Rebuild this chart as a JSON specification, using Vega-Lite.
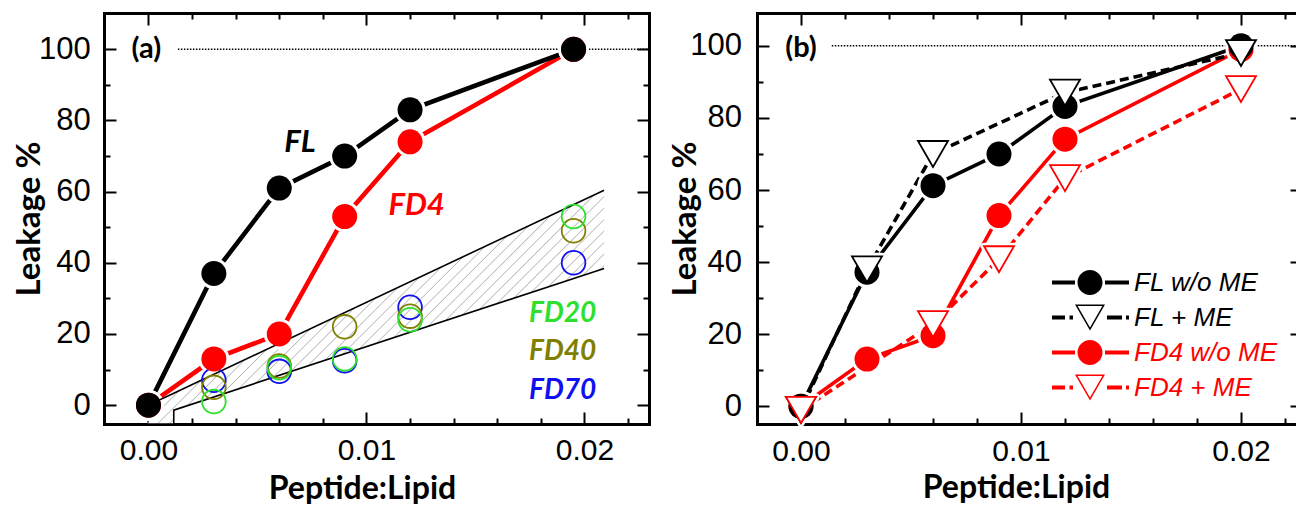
{
  "$schema": "https://vega.github.io/schema/vega-lite/v6.json",
  "padding": {"left": 13, "top": 12, "right": 0, "bottom": 0},
  "autosize": {"type": "pad"},
  "background": "white",
  "config": {
    "view": {"stroke": null},
    "axis": {"grid": false, "domainColor": "#000", "domainWidth": 3, "domainCap": "square", "tickColor": "#000", "tickWidth": 2, "labelFont": "Liberation Sans", "labelFontSize": 31, "labelColor": "#000", "labelFlush": false, "titleFont": "Lato", "titleFontSize": 33, "titleFontWeight": "bold", "titleColor": "#000", "zindex": 1}
  },
  "datasets": {
    "a_main": [
      {"x": 0, "y": 0, "s": "FD4"}, {"x": 0.003, "y": 13, "s": "FD4"}, {"x": 0.006, "y": 20, "s": "FD4"}, {"x": 0.009, "y": 53, "s": "FD4"}, {"x": 0.012, "y": 74, "s": "FD4"}, {"x": 0.0195, "y": 100, "s": "FD4"},
      {"x": 0, "y": 0, "s": "FL"}, {"x": 0.003, "y": 37, "s": "FL"}, {"x": 0.006, "y": 61, "s": "FL"}, {"x": 0.009, "y": 70, "s": "FL"}, {"x": 0.012, "y": 83, "s": "FL"}, {"x": 0.0195, "y": 100, "s": "FL"}
    ],
    "a_open": [
      {"x": 0.003, "y": 7, "s": "FD70"}, {"x": 0.006, "y": 9.5, "s": "FD70"}, {"x": 0.009, "y": 12.5, "s": "FD70"}, {"x": 0.012, "y": 27.5, "s": "FD70"}, {"x": 0.0195, "y": 40, "s": "FD70"},
      {"x": 0.003, "y": 5, "s": "FD40"}, {"x": 0.006, "y": 11, "s": "FD40"}, {"x": 0.009, "y": 22, "s": "FD40"}, {"x": 0.012, "y": 25, "s": "FD40"}, {"x": 0.0195, "y": 49, "s": "FD40"},
      {"x": 0.003, "y": 1, "s": "FD20"}, {"x": 0.006, "y": 10.5, "s": "FD20"}, {"x": 0.009, "y": 13, "s": "FD20"}, {"x": 0.012, "y": 24, "s": "FD20"}, {"x": 0.0195, "y": 53, "s": "FD20"}
    ],
    "a_band": [
      {"x": 0, "hi": 0, "lo": -5.3}, {"x": 0.00116, "hi": 3.34, "lo": -5.3}, {"x": 0.00116, "hi": 3.34, "lo": -1.4}, {"x": 0.0209, "hi": 60.4, "lo": 38.4}
    ],
    "a_dot": [{"x": 0.00135, "y": 100}, {"x": 0.0229, "y": 100}],
    "a_text_big": [
      {"x": 0.00695, "y": 73.6, "t": "FL"}, {"x": 0.0123, "y": 56, "t": "FD4"}
    ],
    "a_text_small": [
      {"x": 0.019, "y": 25.6, "t": "FD20"}, {"x": 0.019, "y": 14.9, "t": "FD40"}, {"x": 0.019, "y": 3.9, "t": "FD70"}
    ],
    "a_tag": [{"x": -0.0001, "y": 100, "t": "(a)"}],
    "b_wo": [
      {"x": 0, "y": 0, "s": "FD4 w/o ME"}, {"x": 0.003, "y": 13.1, "s": "FD4 w/o ME"}, {"x": 0.006, "y": 19.6, "s": "FD4 w/o ME"}, {"x": 0.009, "y": 52.9, "s": "FD4 w/o ME"}, {"x": 0.012, "y": 74.1, "s": "FD4 w/o ME"}, {"x": 0.02, "y": 99, "s": "FD4 w/o ME"},
      {"x": 0, "y": 0, "s": "FL w/o ME"}, {"x": 0.003, "y": 37.2, "s": "FL w/o ME"}, {"x": 0.006, "y": 61.2, "s": "FL w/o ME"}, {"x": 0.009, "y": 70, "s": "FL w/o ME"}, {"x": 0.012, "y": 83.2, "s": "FL w/o ME"}, {"x": 0.02, "y": 100, "s": "FL w/o ME"}
    ],
    "b_me": [
      {"x": 0, "y": -1, "s": "FL + ME"}, {"x": 0.003, "y": 38, "s": "FL + ME"}, {"x": 0.006, "y": 70, "s": "FL + ME"}, {"x": 0.012, "y": 87, "s": "FL + ME"}, {"x": 0.02, "y": 98, "s": "FL + ME"},
      {"x": 0, "y": -1, "s": "FD4 + ME"}, {"x": 0.006, "y": 22.8, "s": "FD4 + ME"}, {"x": 0.009, "y": 40.8, "s": "FD4 + ME"}, {"x": 0.012, "y": 63.3, "s": "FD4 + ME"}, {"x": 0.02, "y": 88, "s": "FD4 + ME"}
    ],
    "b_dot": [{"x": 0.0014, "y": 100}, {"x": 0.0225, "y": 100}],
    "b_tag": [{"x": 0, "y": 99.5, "t": "(b)"}]
  },
  "resolve": {"scale": {"x": "independent", "y": "independent", "color": "independent"}, "legend": {"color": "independent"}},
  "spacing": 18,
  "hconcat": [
    {
      "width": 545,
      "height": 411,
      "resolve": {"axis": {"x": "independent", "y": "independent"}},
      "layer": [
        {
          "data": {"name": "a_band"},
          "mark": {"type": "area", "opacity": 1, "fill": {"gradient": "linear", "x1": 0, "y1": 0, "x2": 1, "y2": 0.514, "stops": [
            {"offset": 0, "color": "#fff"}, {"offset": 0.002, "color": "#b8b8b8"}, {"offset": 0.004, "color": "#fff"},
            {"offset": 0.02, "color": "#fff"}, {"offset": 0.022, "color": "#b8b8b8"}, {"offset": 0.024, "color": "#fff"},
            {"offset": 0.04, "color": "#fff"}, {"offset": 0.042, "color": "#b8b8b8"}, {"offset": 0.044, "color": "#fff"},
            {"offset": 0.06, "color": "#fff"}, {"offset": 0.062, "color": "#b8b8b8"}, {"offset": 0.064, "color": "#fff"},
            {"offset": 0.08, "color": "#fff"}, {"offset": 0.082, "color": "#b8b8b8"}, {"offset": 0.084, "color": "#fff"},
            {"offset": 0.1, "color": "#fff"}, {"offset": 0.102, "color": "#b8b8b8"}, {"offset": 0.104, "color": "#fff"},
            {"offset": 0.12, "color": "#fff"}, {"offset": 0.122, "color": "#b8b8b8"}, {"offset": 0.124, "color": "#fff"},
            {"offset": 0.14, "color": "#fff"}, {"offset": 0.142, "color": "#b8b8b8"}, {"offset": 0.144, "color": "#fff"},
            {"offset": 0.16, "color": "#fff"}, {"offset": 0.162, "color": "#b8b8b8"}, {"offset": 0.164, "color": "#fff"},
            {"offset": 0.18, "color": "#fff"}, {"offset": 0.182, "color": "#b8b8b8"}, {"offset": 0.184, "color": "#fff"},
            {"offset": 0.2, "color": "#fff"}, {"offset": 0.202, "color": "#b8b8b8"}, {"offset": 0.204, "color": "#fff"},
            {"offset": 0.22, "color": "#fff"}, {"offset": 0.222, "color": "#b8b8b8"}, {"offset": 0.224, "color": "#fff"},
            {"offset": 0.24, "color": "#fff"}, {"offset": 0.242, "color": "#b8b8b8"}, {"offset": 0.244, "color": "#fff"},
            {"offset": 0.26, "color": "#fff"}, {"offset": 0.262, "color": "#b8b8b8"}, {"offset": 0.264, "color": "#fff"},
            {"offset": 0.28, "color": "#fff"}, {"offset": 0.282, "color": "#b8b8b8"}, {"offset": 0.284, "color": "#fff"},
            {"offset": 0.3, "color": "#fff"}, {"offset": 0.302, "color": "#b8b8b8"}, {"offset": 0.304, "color": "#fff"},
            {"offset": 0.32, "color": "#fff"}, {"offset": 0.322, "color": "#b8b8b8"}, {"offset": 0.324, "color": "#fff"},
            {"offset": 0.34, "color": "#fff"}, {"offset": 0.342, "color": "#b8b8b8"}, {"offset": 0.344, "color": "#fff"},
            {"offset": 0.36, "color": "#fff"}, {"offset": 0.362, "color": "#b8b8b8"}, {"offset": 0.364, "color": "#fff"},
            {"offset": 0.38, "color": "#fff"}, {"offset": 0.382, "color": "#b8b8b8"}, {"offset": 0.384, "color": "#fff"},
            {"offset": 0.4, "color": "#fff"}, {"offset": 0.402, "color": "#b8b8b8"}, {"offset": 0.404, "color": "#fff"},
            {"offset": 0.42, "color": "#fff"}, {"offset": 0.422, "color": "#b8b8b8"}, {"offset": 0.424, "color": "#fff"},
            {"offset": 0.44, "color": "#fff"}, {"offset": 0.442, "color": "#b8b8b8"}, {"offset": 0.444, "color": "#fff"},
            {"offset": 0.46, "color": "#fff"}, {"offset": 0.462, "color": "#b8b8b8"}, {"offset": 0.464, "color": "#fff"},
            {"offset": 0.48, "color": "#fff"}, {"offset": 0.482, "color": "#b8b8b8"}, {"offset": 0.484, "color": "#fff"},
            {"offset": 0.5, "color": "#fff"}, {"offset": 0.502, "color": "#b8b8b8"}, {"offset": 0.504, "color": "#fff"},
            {"offset": 0.52, "color": "#fff"}, {"offset": 0.522, "color": "#b8b8b8"}, {"offset": 0.524, "color": "#fff"},
            {"offset": 0.54, "color": "#fff"}, {"offset": 0.542, "color": "#b8b8b8"}, {"offset": 0.544, "color": "#fff"},
            {"offset": 0.56, "color": "#fff"}, {"offset": 0.562, "color": "#b8b8b8"}, {"offset": 0.564, "color": "#fff"},
            {"offset": 0.58, "color": "#fff"}, {"offset": 0.582, "color": "#b8b8b8"}, {"offset": 0.584, "color": "#fff"},
            {"offset": 0.6, "color": "#fff"}, {"offset": 0.602, "color": "#b8b8b8"}, {"offset": 0.604, "color": "#fff"},
            {"offset": 0.62, "color": "#fff"}, {"offset": 0.622, "color": "#b8b8b8"}, {"offset": 0.624, "color": "#fff"},
            {"offset": 0.64, "color": "#fff"}, {"offset": 0.642, "color": "#b8b8b8"}, {"offset": 0.644, "color": "#fff"},
            {"offset": 0.66, "color": "#fff"}, {"offset": 0.662, "color": "#b8b8b8"}, {"offset": 0.664, "color": "#fff"},
            {"offset": 0.68, "color": "#fff"}, {"offset": 0.682, "color": "#b8b8b8"}, {"offset": 0.684, "color": "#fff"},
            {"offset": 0.7, "color": "#fff"}, {"offset": 0.702, "color": "#b8b8b8"}, {"offset": 0.704, "color": "#fff"},
            {"offset": 0.72, "color": "#fff"}, {"offset": 0.722, "color": "#b8b8b8"}, {"offset": 0.724, "color": "#fff"},
            {"offset": 0.74, "color": "#fff"}, {"offset": 0.742, "color": "#b8b8b8"}, {"offset": 0.744, "color": "#fff"},
            {"offset": 0.76, "color": "#fff"}, {"offset": 0.762, "color": "#b8b8b8"}, {"offset": 0.764, "color": "#fff"},
            {"offset": 0.78, "color": "#fff"}, {"offset": 0.782, "color": "#b8b8b8"}, {"offset": 0.784, "color": "#fff"},
            {"offset": 0.8, "color": "#fff"}, {"offset": 0.802, "color": "#b8b8b8"}, {"offset": 0.804, "color": "#fff"},
            {"offset": 0.82, "color": "#fff"}, {"offset": 0.822, "color": "#b8b8b8"}, {"offset": 0.824, "color": "#fff"},
            {"offset": 0.84, "color": "#fff"}, {"offset": 0.842, "color": "#b8b8b8"}, {"offset": 0.844, "color": "#fff"},
            {"offset": 0.86, "color": "#fff"}, {"offset": 0.862, "color": "#b8b8b8"}, {"offset": 0.864, "color": "#fff"},
            {"offset": 0.88, "color": "#fff"}, {"offset": 0.882, "color": "#b8b8b8"}, {"offset": 0.884, "color": "#fff"},
            {"offset": 0.9, "color": "#fff"}, {"offset": 0.902, "color": "#b8b8b8"}, {"offset": 0.904, "color": "#fff"},
            {"offset": 0.92, "color": "#fff"}, {"offset": 0.922, "color": "#b8b8b8"}, {"offset": 0.924, "color": "#fff"},
            {"offset": 0.94, "color": "#fff"}, {"offset": 0.942, "color": "#b8b8b8"}, {"offset": 0.944, "color": "#fff"},
            {"offset": 0.96, "color": "#fff"}, {"offset": 0.962, "color": "#b8b8b8"}, {"offset": 0.964, "color": "#fff"},
            {"offset": 0.98, "color": "#fff"}, {"offset": 0.982, "color": "#b8b8b8"}, {"offset": 0.984, "color": "#fff"},
            {"offset": 1, "color": "#fff"}
          ]}},
          "encoding": {
            "x": {"field": "x", "type": "quantitative", "scale": {"domain": [-0.00204, 0.02296], "nice": false, "zero": false},
                  "axis": {"orient": "bottom", "values": [0, 0.01, 0.02], "format": ".2f", "tickSize": -12, "labelPadding": 23.5, "labelFontSize": 30, "title": "Peptide:Lipid", "titleFontSize": 32, "titleX": 258, "titleY": 74, "titleBaseline": "alphabetic"}},
            "y": {"field": "hi", "type": "quantitative", "scale": {"domain": [-5.3, 110.2], "nice": false, "zero": false},
                  "axis": {"orient": "left", "values": [0, 20, 40, 60, 80, 100], "tickSize": -12, "labelPadding": 25.7, "title": "Leakage %", "titleX": -75, "titleY": 205.5, "titleBaseline": "middle", "titleAngle": 270}},
            "y2": {"field": "lo"}
          }
        },
        {
          "data": {"name": "a_dot"},
          "mark": {"type": "line", "color": "#000", "strokeWidth": 1.6, "strokeDash": [1.5, 1.5]},
          "encoding": {
            "x": {"field": "x", "type": "quantitative", "scale": {"domain": [-0.00204, 0.02296], "nice": false, "zero": false},
                  "axis": {"orient": "bottom", "values": [0.002, 0.004, 0.006, 0.008, 0.012, 0.014, 0.016, 0.018, 0.022], "tickSize": -6, "labels": false, "domain": false, "title": null}},
            "y": {"field": "y", "type": "quantitative", "scale": {"domain": [-5.3, 110.2], "nice": false, "zero": false},
                  "axis": {"orient": "left", "values": [10, 30, 50, 70, 90], "tickSize": -6, "labels": false, "domain": false, "title": null}}
          }
        },
        {
          "data": {"name": "a_main"},
          "mark": {"type": "line", "strokeWidth": 4.6},
          "encoding": {
            "x": {"field": "x", "type": "quantitative", "scale": {"domain": [-0.00204, 0.02296], "nice": false, "zero": false},
                  "axis": {"orient": "top", "values": [0, 0.01, 0.02], "tickSize": -12, "labels": false, "title": null}},
            "y": {"field": "y", "type": "quantitative", "scale": {"domain": [-5.3, 110.2], "nice": false, "zero": false},
                  "axis": {"orient": "right", "values": [0, 20, 40, 60, 80, 100], "tickSize": -12, "labels": false, "title": null}},
            "color": {"field": "s", "type": "nominal", "scale": {"domain": ["FL", "FD4", "FD20", "FD40", "FD70"], "range": ["#000000", "#ff0000", "#2ee02e", "#808000", "#1010f0"]}, "legend": null}
          }
        },
        {
          "data": {"name": "a_main"},
          "mark": {"type": "point", "shape": "circle", "filled": true, "fill": "#fff", "stroke": "#fff", "strokeWidth": 6, "size": 625, "opacity": 1},
          "encoding": {
            "x": {"field": "x", "type": "quantitative", "scale": {"domain": [-0.00204, 0.02296], "nice": false, "zero": false},
                  "axis": {"orient": "top", "values": [0.002, 0.004, 0.006, 0.008, 0.012, 0.014, 0.016, 0.018, 0.022], "tickSize": -6, "labels": false, "domain": false, "title": null}},
            "y": {"field": "y", "type": "quantitative", "scale": {"domain": [-5.3, 110.2], "nice": false, "zero": false},
                  "axis": {"orient": "right", "values": [10, 30, 50, 70, 90], "tickSize": -6, "labels": false, "domain": false, "title": null}}
          }
        },
        {
          "data": {"name": "a_band"},
          "mark": {"type": "line", "color": "#000", "strokeWidth": 1.6},
          "encoding": {
            "x": {"field": "x", "type": "quantitative", "axis": null},
            "y": {"field": "hi", "type": "quantitative", "axis": null}
          }
        },
        {
          "data": {"name": "a_band"},
          "mark": {"type": "line", "color": "#000", "strokeWidth": 1.6},
          "encoding": {
            "x": {"field": "x", "type": "quantitative", "axis": null},
            "y": {"field": "lo", "type": "quantitative", "axis": null}
          }
        },
        {
          "data": {"name": "a_open"},
          "mark": {"type": "point", "shape": "circle", "filled": false, "strokeWidth": 1.8, "size": 560, "opacity": 1},
          "encoding": {
            "x": {"field": "x", "type": "quantitative", "axis": null},
            "y": {"field": "y", "type": "quantitative", "axis": null},
            "color": {"field": "s", "type": "nominal", "legend": null}
          }
        },
        {
          "data": {"name": "a_main"},
          "mark": {"type": "point", "shape": "circle", "filled": true, "size": 625, "opacity": 1, "strokeWidth": 0},
          "encoding": {
            "x": {"field": "x", "type": "quantitative", "axis": null},
            "y": {"field": "y", "type": "quantitative", "axis": null},
            "color": {"field": "s", "type": "nominal", "legend": null}
          }
        },
        {
          "data": {"name": "a_text_big"},
          "mark": {"type": "text", "font": "Lato", "fontWeight": "bold", "fontStyle": "italic", "fontSize": 31, "align": "center", "baseline": "middle"},
          "encoding": {
            "x": {"field": "x", "type": "quantitative", "axis": null},
            "y": {"field": "y", "type": "quantitative", "axis": null},
            "text": {"field": "t"},
            "color": {"field": "t", "type": "nominal", "legend": null}
          }
        },
        {
          "data": {"name": "a_text_small"},
          "mark": {"type": "text", "font": "Lato", "fontWeight": "bold", "fontStyle": "italic", "fontSize": 28, "align": "center", "baseline": "middle"},
          "encoding": {
            "x": {"field": "x", "type": "quantitative", "axis": null},
            "y": {"field": "y", "type": "quantitative", "axis": null},
            "text": {"field": "t"},
            "color": {"field": "t", "type": "nominal", "legend": null}
          }
        },
        {
          "data": {"name": "a_tag"},
          "mark": {"type": "text", "font": "Lato", "fontWeight": "bold", "fontSize": 29, "align": "center", "baseline": "middle", "color": "#000"},
          "encoding": {
            "x": {"field": "x", "type": "quantitative", "axis": null},
            "y": {"field": "y", "type": "quantitative", "axis": null},
            "text": {"field": "t"}
          }
        }
      ]
    },
    {
      "width": 539,
      "height": 411,
      "resolve": {"axis": {"x": "independent", "y": "independent"}},
      "layer": [
        {
          "data": {"name": "b_dot"},
          "mark": {"type": "line", "color": "#000", "strokeWidth": 1.6, "strokeDash": [1.5, 1.5]},
          "encoding": {
            "x": {"field": "x", "type": "quantitative", "scale": {"domain": [-0.002, 0.0225], "nice": false, "zero": false},
                  "axis": {"orient": "bottom", "values": [0, 0.01, 0.02], "format": ".2f", "tickSize": -12, "labelPadding": 24, "labelFontSize": 30, "title": "Peptide:Lipid", "titleFontSize": 32, "titleX": 259, "titleY": 73, "titleBaseline": "alphabetic"}},
            "y": {"field": "y", "type": "quantitative", "scale": {"domain": [-4.9, 109.1], "nice": false, "zero": false},
                  "axis": {"orient": "left", "values": [0, 20, 40, 60, 80, 100], "tickSize": -12, "labelPadding": 27.5, "title": "Leakage %", "titleX": -72, "titleY": 205.5, "titleBaseline": "middle", "titleAngle": 270}}
          }
        },
        {
          "data": {"name": "b_wo"},
          "mark": {"type": "line", "strokeWidth": 3.6},
          "encoding": {
            "x": {"field": "x", "type": "quantitative", "scale": {"domain": [-0.002, 0.0225], "nice": false, "zero": false},
                  "axis": {"orient": "bottom", "values": [0.002, 0.004, 0.006, 0.008, 0.012, 0.014, 0.016, 0.018, 0.022], "tickSize": -6, "labels": false, "domain": false, "title": null}},
            "y": {"field": "y", "type": "quantitative", "scale": {"domain": [-4.9, 109.1], "nice": false, "zero": false},
                  "axis": {"orient": "left", "values": [10, 30, 50, 70, 90], "tickSize": -6, "labels": false, "domain": false, "title": null}},
            "color": {"field": "s", "type": "nominal",
                      "scale": {"domain": ["FL w/o ME", "FL + ME", "FD4 w/o ME", "FD4 + ME"], "range": ["#000000", "#000000", "#ff0000", "#ff0000"]},
                      "legend": {"title": null, "orient": "none", "legendX": 293, "legendY": 252, "padding": 0, "symbolSize": 6400, "clipHeight": 35, "rowPadding": 0, "labelOffset": 4,
                                 "labelFont": "Liberation Sans", "labelFontStyle": "italic", "labelFontSize": 26, "labelLimit": 300,
                                 "encode": {
                                   "symbols": {"update": {
                                     "shape": {"signal": "(datum.value == 'FL w/o ME' || datum.value == 'FD4 w/o ME') ? 'M-0.95,-0.05L-0.375,-0.05L-0.375,0.05L-0.95,0.05Z M0.375,-0.05L0.975,-0.05L0.975,0.05L0.375,0.05Z M-0.3125,0A0.3125,0.3125,0,1,0,0.3125,0A0.3125,0.3125,0,1,0,-0.3125,0Z' : 'M-0.95,-0.05L-0.625,-0.05L-0.625,0.05L-0.95,0.05Z M-0.5125,-0.05L-0.425,-0.05L-0.425,0.05L-0.5125,0.05Z M0.425,-0.05L0.8,-0.05L0.8,0.05L0.425,0.05Z M0.9,-0.05L0.975,-0.05L0.975,0.05L0.9,0.05Z M-0.375,-0.325L0.375,-0.325L0,0.325Z M-0.31,-0.2875L0,0.25L0.31,-0.2875Z'"},
                                     "fill": {"signal": "(datum.value == 'FL w/o ME' || datum.value == 'FL + ME') ? '#000000' : '#ff0000'"},
                                     "stroke": {"value": "transparent"},
                                     "strokeWidth": {"value": 0},
                                     "size": {"value": 6400},
                                     "opacity": {"value": 1}
                                   }},
                                   "labels": {"update": {"fill": {"signal": "(datum.value == 'FL w/o ME' || datum.value == 'FL + ME') ? '#000000' : '#ff0000'"}}}
                                 }}}
          }
        },
        {
          "data": {"name": "b_me"},
          "mark": {"type": "line", "strokeWidth": 3.6, "strokeDash": [9, 5]},
          "encoding": {
            "x": {"field": "x", "type": "quantitative", "scale": {"domain": [-0.002, 0.0225], "nice": false, "zero": false},
                  "axis": {"orient": "top", "values": [0, 0.01, 0.02], "tickSize": -12, "labels": false, "title": null}},
            "y": {"field": "y", "type": "quantitative", "scale": {"domain": [-4.9, 109.1], "nice": false, "zero": false},
                  "axis": {"orient": "right", "values": [0, 20, 40, 60, 80, 100], "tickSize": -6, "labels": false, "domain": false, "title": null}},
            "color": {"field": "s", "type": "nominal"}
          }
        },
        {
          "data": {"name": "b_wo"},
          "mark": {"type": "point", "shape": "circle", "filled": true, "fill": "#fff", "stroke": "#fff", "strokeWidth": 6, "size": 625, "opacity": 1},
          "encoding": {
            "x": {"field": "x", "type": "quantitative", "scale": {"domain": [-0.002, 0.0225], "nice": false, "zero": false},
                  "axis": {"orient": "top", "values": [0.002, 0.004, 0.006, 0.008, 0.012, 0.014, 0.016, 0.018, 0.022], "tickSize": -6, "labels": false, "domain": false, "title": null}},
            "y": {"field": "y", "type": "quantitative", "axis": null}
          }
        },
        {
          "data": {"name": "b_me"},
          "mark": {"type": "point", "shape": "triangle-down", "filled": true, "fill": "#fff", "stroke": "#fff", "strokeWidth": 7, "strokeJoin": "round", "size": 900, "opacity": 1},
          "encoding": {
            "x": {"field": "x", "type": "quantitative", "axis": null},
            "y": {"field": "y", "type": "quantitative", "axis": null}
          }
        },
        {
          "data": {"name": "b_wo"},
          "mark": {"type": "point", "shape": "circle", "filled": true, "size": 625, "opacity": 1, "strokeWidth": 0},
          "encoding": {
            "x": {"field": "x", "type": "quantitative", "axis": null},
            "y": {"field": "y", "type": "quantitative", "axis": null},
            "color": {"field": "s", "type": "nominal"}
          }
        },
        {
          "data": {"name": "b_me"},
          "mark": {"type": "point", "shape": "triangle-down", "filled": false, "fill": "#fff", "strokeWidth": 1.8, "size": 900, "opacity": 1},
          "encoding": {
            "x": {"field": "x", "type": "quantitative", "axis": null},
            "y": {"field": "y", "type": "quantitative", "axis": null},
            "color": {"field": "s", "type": "nominal"}
          }
        },
        {
          "data": {"name": "b_tag"},
          "mark": {"type": "text", "font": "Lato", "fontWeight": "bold", "fontSize": 29, "align": "center", "baseline": "middle", "color": "#000"},
          "encoding": {
            "x": {"field": "x", "type": "quantitative", "axis": null},
            "y": {"field": "y", "type": "quantitative", "axis": null},
            "text": {"field": "t"}
          }
        }
      ]
    }
  ]
}
